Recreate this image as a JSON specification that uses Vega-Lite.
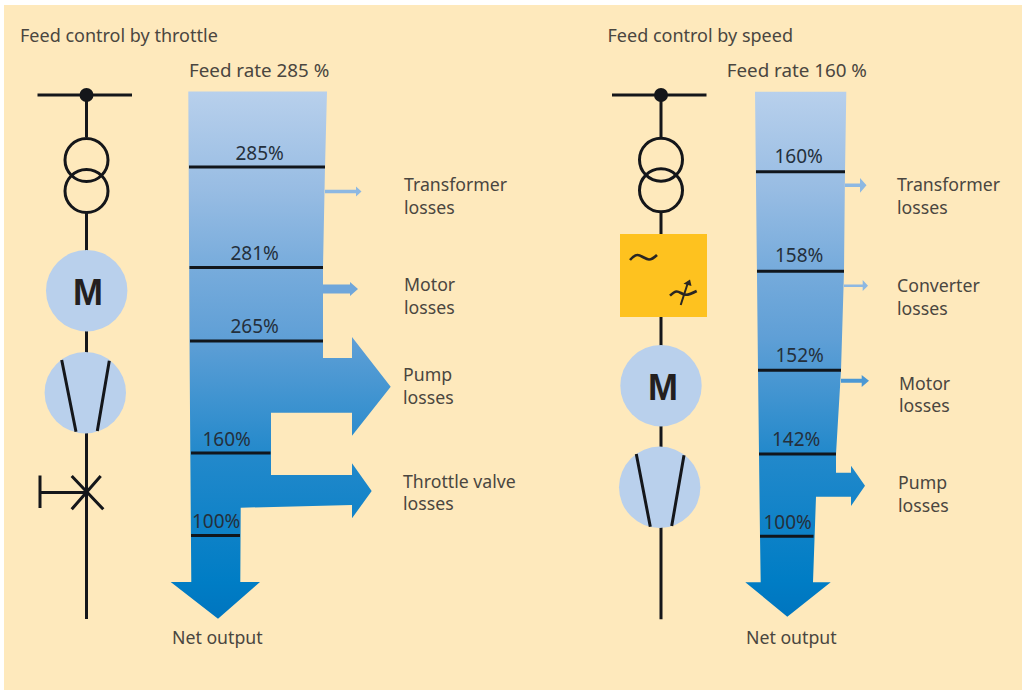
{"$schema":"https://vega.github.io/schema/vega-lite/v6.json","width":1022,"height":691,"padding":0,"autosize":"none","background":"#ffffff","config":{"view":{"stroke":null}},"projection":{"type":"identity","scale":1,"translate":[0,0]},
"layer":[
{"data":{"values":[{"type":"Feature","properties":{"name":"panel"},"geometry":{"type":"Polygon","coordinates":[[[4,5],[1022,5],[1022,690],[4,690],[4,5]]]}}]},"mark":{"type":"geoshape","fill":"#FEE9BC","stroke":null}},
{"data":{"values":[
{"type":"Feature","properties":{"name":"left wiring"},"geometry":{"type":"MultiLineString","coordinates":[[[37.5,95],[132,95]],[[86.5,95],[86.5,137]],[[86.5,212],[86.5,252]],[[86.5,330],[86.5,354]],[[86.5,432],[86.5,619]],[[40,492.5],[86.5,492.5]],[[40,475.5],[40,508]],[[71.7,476],[103.3,509.3]],[[100.7,476],[71.7,509.3]]]}},
{"type":"Feature","properties":{"name":"right wiring"},"geometry":{"type":"MultiLineString","coordinates":[[[612,95],[706.5,95]],[[661,95],[661,137]],[[661,212],[661,234]],[[661,317],[661,346]],[[661,425],[661,448]],[[661,527],[661,619.3]]]}}
]},"mark":{"type":"geoshape","filled":false,"fill":null,"stroke":"#14161a","strokeWidth":3}},
{"data":{"values":[{"name":"left top","lon":86.5,"lat":95},{"name":"right top","lon":661,"lat":95}]},"mark":{"type":"point","shape":"circle","filled":true,"fill":"#14161a","size":196,"opacity":1,"strokeWidth":0},"encoding":{"longitude":{"field":"lon","type":"quantitative"},"latitude":{"field":"lat","type":"quantitative"}}},
{"data":{"values":[{"name":"left t1","lon":86.5,"lat":160},{"name":"left t2","lon":86.5,"lat":191},{"name":"right t1","lon":661,"lat":159.7},{"name":"right t2","lon":661,"lat":190.3}]},"mark":{"type":"point","shape":"circle","filled":false,"stroke":"#14161a","strokeWidth":3,"size":1849,"opacity":1},"encoding":{"longitude":{"field":"lon","type":"quantitative"},"latitude":{"field":"lat","type":"quantitative"}}},
{"data":{"values":[{"name":"left motor","lon":86.7,"lat":290.7},{"name":"left pump","lon":85.3,"lat":392.7},{"name":"right motor","lon":661,"lat":385.7},{"name":"right pump","lon":659.7,"lat":487.3}]},"mark":{"type":"point","shape":"circle","filled":true,"fill":"#B9D0EC","size":6626,"opacity":1,"strokeWidth":0},"encoding":{"longitude":{"field":"lon","type":"quantitative"},"latitude":{"field":"lat","type":"quantitative"}}},
{"data":{"values":[{"type":"Feature","properties":{"name":"converter"},"geometry":{"type":"Polygon","coordinates":[[[620,234],[707,234],[707,317],[620,317],[620,234]]]}}]},"mark":{"type":"geoshape","fill":"#FEC21F","stroke":null}},
{"data":{"values":[
{"type":"Feature","properties":{"name":"pump vanes"},"geometry":{"type":"MultiLineString","coordinates":[[[61.7,360],[76,431.7]],[[109.3,360.7],[97.3,431]],[[636.3,454],[650.3,526.7]],[[684,455.3],[671.7,526]]]}}
]},"mark":{"type":"geoshape","filled":false,"fill":null,"stroke":"#14161a","strokeWidth":3}},
{"data":{"values":[{"seg":"a","i":1,"lon":630,"lat":260},{"seg":"a","i":2,"lon":637.5,"lat":255},{"seg":"a","i":3,"lon":649,"lat":259.5},{"seg":"a","i":4,"lon":657,"lat":255},{"seg":"b","i":1,"lon":670,"lat":295.7},{"seg":"b","i":2,"lon":676.7,"lat":291.5},{"seg":"b","i":3,"lon":686,"lat":294.8},{"seg":"b","i":4,"lon":696.7,"lat":291}]},"mark":{"type":"line","interpolate":"cardinal","stroke":"#2a2622","strokeWidth":2.6},"encoding":{"longitude":{"field":"lon","type":"quantitative"},"latitude":{"field":"lat","type":"quantitative"},"detail":{"field":"seg","type":"nominal"},"order":{"field":"i","type":"quantitative"}}},
{"data":{"values":[{"type":"Feature","properties":{"name":"converter arrow shaft"},"geometry":{"type":"LineString","coordinates":[[680.7,305],[687.5,284]]}}]},"mark":{"type":"geoshape","filled":false,"fill":null,"stroke":"#2a2622","strokeWidth":2}},
{"data":{"values":[{"type":"Feature","properties":{"name":"converter arrow head"},"geometry":{"type":"Polygon","coordinates":[[[690,279.5],[683.5,283.7],[691.5,286],[690,279.5]]]}}]},"mark":{"type":"geoshape","fill":"#2a2622","stroke":null}},
{"data":{"values":[
{"type":"Feature","properties":{"name":"throttle flow"},"geometry":{"type":"Polygon","coordinates":[[[188.3,91.5],[327,91.5],[325,167],[323,267],[323,358],[352,358],[352,337],[390.7,386.7],[352,435.7],[352,412.7],[271,412.7],[271,475],[352,475],[352,463.3],[371.7,491],[352,518.3],[352,505],[240.7,507.7],[240.3,582],[260,582],[218,618.7],[170.7,582],[191.3,582],[190.3,453],[189.5,341],[188.3,91.5]]]}},
{"type":"Feature","properties":{"name":"speed flow"},"geometry":{"type":"Polygon","coordinates":[[[755,91.7],[846.3,91.7],[845,172],[844,271.5],[841,370.3],[836,454],[836,472.7],[851,472.7],[851,465.7],[865,485.7],[851,506],[851,496.7],[816,496.7],[813,582.3],[830.7,582.3],[787.3,616.7],[745.3,582.3],[760.7,582.3],[760,536],[759,454],[758,370],[755,91.7]]]}}
]},"mark":{"type":"geoshape","stroke":null,"fill":{"gradient":"linear","x1":0,"y1":0,"x2":0,"y2":1,"stops":[{"offset":0,"color":"#B8D0EC"},{"offset":0.19,"color":"#97BCE3"},{"offset":0.33,"color":"#78ACDC"},{"offset":0.47,"color":"#5F9FD6"},{"offset":0.686,"color":"#2389CB"},{"offset":0.93,"color":"#007DC5"},{"offset":1,"color":"#0075BF"}]}}},
{"data":{"values":[
{"type":"Feature","properties":{"name":"left transformer loss"},"geometry":{"type":"Polygon","coordinates":[[[325,189.7],[356,189.7],[356,186.5],[361.5,191.5],[356,196.5],[356,193.3],[325,193.3],[325,189.7]]]}},
{"type":"Feature","properties":{"name":"right transformer loss"},"geometry":{"type":"Polygon","coordinates":[[[845,183.5],[860,183.5],[860,178],[866.5,185.3],[860,192.7],[860,187.1],[845,187.1],[845,183.5]]]}},
{"type":"Feature","properties":{"name":"converter loss"},"geometry":{"type":"Polygon","coordinates":[[[844,284.5],[862.7,284.5],[862.7,280],[868,285.7],[862.7,291],[862.7,287],[844,287],[844,284.5]]]}}
]},"mark":{"type":"geoshape","fill":"#8DB8E2","stroke":null}},
{"data":{"values":[{"type":"Feature","properties":{"name":"left motor loss"},"geometry":{"type":"Polygon","coordinates":[[[323,284.5],[350,284.5],[350,282],[358,289],[350,296],[350,293.5],[323,293.5],[323,284.5]]]}}]},"mark":{"type":"geoshape","fill":"#6FA6DA","stroke":null}},
{"data":{"values":[{"type":"Feature","properties":{"name":"right motor loss"},"geometry":{"type":"Polygon","coordinates":[[[841,378.7],[861.7,378.7],[861.7,375],[869,380.7],[861.7,387],[861.7,382.7],[841,382.7],[841,378.7]]]}}]},"mark":{"type":"geoshape","fill":"#4B98D4","stroke":null}},
{"data":{"values":[
{"type":"Feature","properties":{"label":"285%"},"geometry":{"type":"LineString","coordinates":[[189,167],[325,167]]}},
{"type":"Feature","properties":{"label":"281%"},"geometry":{"type":"LineString","coordinates":[[189.5,267.5],[323,267.5]]}},
{"type":"Feature","properties":{"label":"265%"},"geometry":{"type":"LineString","coordinates":[[190,341],[323,341]]}},
{"type":"Feature","properties":{"label":"160%"},"geometry":{"type":"LineString","coordinates":[[191,453],[270.5,453]]}},
{"type":"Feature","properties":{"label":"100%"},"geometry":{"type":"LineString","coordinates":[[191,535.5],[240,535.5]]}},
{"type":"Feature","properties":{"label":"160%"},"geometry":{"type":"LineString","coordinates":[[756,171.7],[845,171.7]]}},
{"type":"Feature","properties":{"label":"158%"},"geometry":{"type":"LineString","coordinates":[[757,271.3],[844,271.3]]}},
{"type":"Feature","properties":{"label":"152%"},"geometry":{"type":"LineString","coordinates":[[758,370.3],[841,370.3]]}},
{"type":"Feature","properties":{"label":"142%"},"geometry":{"type":"LineString","coordinates":[[759,454],[836,454]]}},
{"type":"Feature","properties":{"label":"100%"},"geometry":{"type":"LineString","coordinates":[[760,536.3],[813.5,536.3]]}}
]},"mark":{"type":"geoshape","filled":false,"fill":null,"stroke":"#11161c","strokeWidth":3}},
{"data":{"values":[
{"t":"Feed control by throttle","lon":20,"lat":42},
{"t":"Feed control by speed","lon":607.5,"lat":42}
]},"mark":{"type":"text","font":"Noto Sans","fontSize":18,"align":"left","baseline":"alphabetic","fill":"#4a4640"},"encoding":{"longitude":{"field":"lon","type":"quantitative"},"latitude":{"field":"lat","type":"quantitative"},"text":{"field":"t","type":"nominal"}}},
{"data":{"values":[
{"t":"Feed rate 285 %","lon":189,"lat":77},
{"t":"Feed rate 160 %","lon":726.7,"lat":77}
]},"mark":{"type":"text","font":"Noto Sans","fontSize":18.8,"align":"left","baseline":"alphabetic","fill":"#4a4640"},"encoding":{"longitude":{"field":"lon","type":"quantitative"},"latitude":{"field":"lat","type":"quantitative"},"text":{"field":"t","type":"nominal"}}},
{"data":{"values":[
{"t":"Net output","lon":172,"lat":644},
{"t":"Transformer","lon":404,"lat":191},{"t":"losses","lon":404,"lat":214},
{"t":"Motor","lon":404,"lat":291},{"t":"losses","lon":404,"lat":314},
{"t":"Pump","lon":403,"lat":381},{"t":"losses","lon":403,"lat":404},
{"t":"Throttle valve","lon":403,"lat":488},{"t":"losses","lon":403,"lat":510},
{"t":"Net output","lon":746,"lat":644},
{"t":"Transformer","lon":897,"lat":191},{"t":"losses","lon":897,"lat":214},
{"t":"Converter","lon":897,"lat":292},{"t":"losses","lon":897,"lat":315},
{"t":"Motor","lon":899,"lat":390},{"t":"losses","lon":899,"lat":412},
{"t":"Pump","lon":898,"lat":489},{"t":"losses","lon":898,"lat":512}
]},"mark":{"type":"text","font":"Noto Sans","fontSize":17.7,"align":"left","baseline":"alphabetic","fill":"#4a4640"},"encoding":{"longitude":{"field":"lon","type":"quantitative"},"latitude":{"field":"lat","type":"quantitative"},"text":{"field":"t","type":"nominal"}}},
{"data":{"values":[
{"t":"285%","lon":235.5,"lat":160},{"t":"281%","lon":230.5,"lat":259.5},{"t":"265%","lon":230.5,"lat":333},{"t":"160%","lon":202.5,"lat":446},{"t":"100%","lon":192,"lat":528},
{"t":"160%","lon":774.5,"lat":163},{"t":"158%","lon":775,"lat":262},{"t":"152%","lon":775.5,"lat":362},{"t":"142%","lon":772,"lat":446},{"t":"100%","lon":763.5,"lat":529}
]},"mark":{"type":"text","font":"Noto Sans","fontSize":19,"align":"left","baseline":"alphabetic","fill":"#24303c"},"encoding":{"longitude":{"field":"lon","type":"quantitative"},"latitude":{"field":"lat","type":"quantitative"},"text":{"field":"t","type":"nominal"}}},
{"data":{"values":[{"t":"M","lon":88,"lat":304.5},{"t":"M","lon":663,"lat":400}]},"mark":{"type":"text","font":"Liberation Sans","fontWeight":"bold","fontSize":36,"align":"center","baseline":"alphabetic","fill":"#231f20"},"encoding":{"longitude":{"field":"lon","type":"quantitative"},"latitude":{"field":"lat","type":"quantitative"},"text":{"field":"t","type":"nominal"}}}
]}
